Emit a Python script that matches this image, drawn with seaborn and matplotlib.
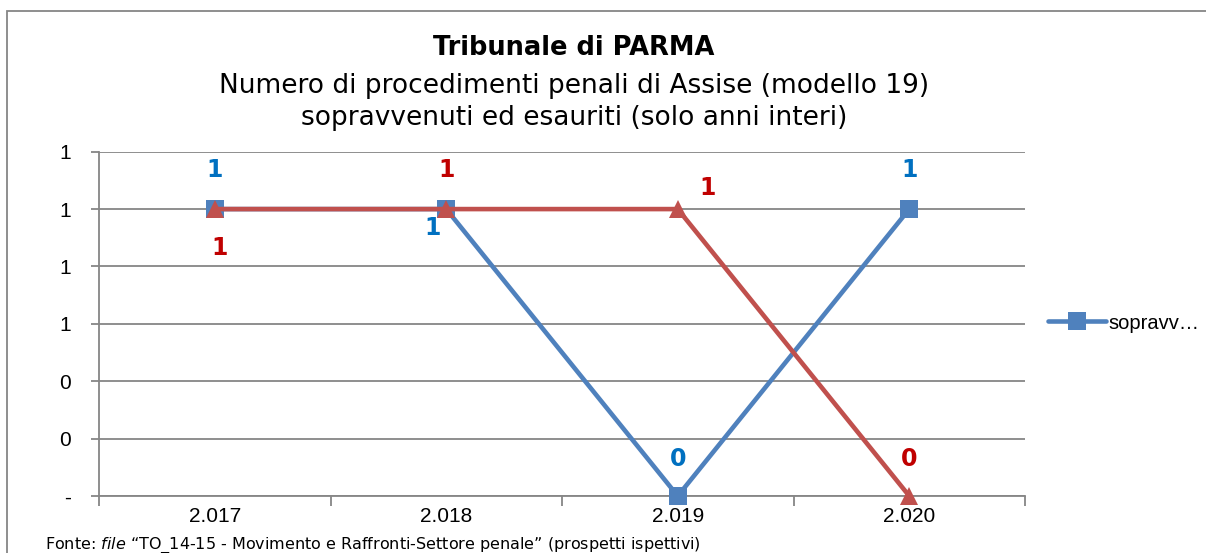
import numpy as np
import pandas as pd
import matplotlib
matplotlib.use('Agg')
import matplotlib.pyplot as plt
import seaborn as sns
from matplotlib.patches import Rectangle
from matplotlib.lines import Line2D

# Data
anni = ['2.017', '2.018', '2.019', '2.020']
sopravvenuti = [1, 1, 0, 1]
esauriti = [1, 1, 1, 0]
serie = ['sopravvenuti', 'esauriti']
y_ticks = [0, 0.2, 0.4, 0.6, 0.8, 1.0, 1.2]

# Label offsets in pixels (style only)
off_sopr = [(0, 39), (-14, -19), (0, 37), (0, 39)]
off_esau = [(5, -39), (0, 39), (30, 21), (0, 37)]

colori_linea = {'sopravvenuti': '#4F81BD', 'esauriti': '#C0504D'}
colori_etich = {'sopravvenuti': '#0070C0', 'esauriti': '#C00000'}

df = pd.DataFrame({
    'anno': anni * 2,
    'valore': sopravvenuti + esauriti,
    'serie': ['sopravvenuti'] * len(anni) + ['esauriti'] * len(anni),
})

sns.set_theme(style="white")
plt.rcParams['font.family'] = ['DejaVu Sans']
plt.rcParams['text.color'] = 'black'
plt.rcParams['xtick.color'] = 'black'
plt.rcParams['ytick.color'] = 'black'

fig = plt.figure(figsize=(12.06, 5.53), dpi=100)
ax = fig.add_axes([99 / 1206, 1 - 496 / 553, (1025 - 99) / 1206, (496 - 151.7) / 553])

sns.lineplot(data=df, x='anno', y='valore', hue='serie', style='serie',
             hue_order=serie, style_order=serie, palette=colori_linea,
             markers={'sopravvenuti': 's', 'esauriti': '^'}, dashes=False,
             markersize=13, markeredgewidth=0, linewidth=3.3, ax=ax,
             legend=False, sort=False)
for ln in ax.lines:
    ln.set_clip_on(False)
    ln.set_zorder(5)

ax.set_xlim(-0.5, 3.5)
ax.set_ylim(0, 1.2)
ax.set_yticks(y_ticks)
ax.set_yticklabels(['-' if v == 0 else f'{v:.0f}' for v in y_ticks],
                   family='Liberation Sans', fontsize=15)
ax.set_xticks(range(len(anni)))
ax.set_xticklabels(anni, family='Liberation Sans', fontsize=15)
ax.tick_params(axis='x', which='major', bottom=True, length=0, pad=8)
ax.tick_params(axis='y', left=True, length=6, width=1.3, color='#868686', pad=14)
ax.set_xticks([i - 0.5 for i in range(len(anni) + 1)], minor=True)
ax.tick_params(axis='x', which='minor', bottom=True, length=7, width=1.3,
               color='#868686', direction='out')
ax.set_xlabel('')
ax.set_ylabel('')

ax.grid(axis='y', color='#868686', linewidth=1.3)
ax.grid(axis='x', visible=False)
for s in ['top', 'right']:
    ax.spines[s].set_visible(False)
for s in ['left', 'bottom']:
    ax.spines[s].set_color('#868686')
    ax.spines[s].set_linewidth(1.3)

for nome, valori, offs in [('sopravvenuti', sopravvenuti, off_sopr),
                           ('esauriti', esauriti, off_esau)]:
    for i, v in enumerate(valori):
        ax.annotate(f'{v:.0f}', (i, v), xytext=offs[i], textcoords='offset pixels',
                    ha='center', va='center', fontsize=17, fontweight='bold',
                    color=colori_etich[nome], annotation_clip=False)

# Legend (only the first entry is visible in the original)
h = Line2D([], [], color=colori_linea['sopravvenuti'], marker='s', markersize=13,
           markeredgewidth=0, linewidth=3.3, solid_capstyle='round')
fig.legend([h], ['sopravv…'], loc='center left', bbox_to_anchor=(1040 / 1206, 1 - 323 / 553),
           frameon=False, handlelength=2.9, handletextpad=0.1,
           prop={'family': 'Liberation Sans', 'size': 14.5}, borderaxespad=0)

# Titles
cx = 574 / 1206
fig.text(cx, 1 - 48 / 553, 'Tribunale di PARMA', ha='center', va='center',
         fontsize=18.5, fontweight='bold')
fig.text(cx, 1 - 86 / 553, 'Numero di procedimenti penali di Assise (modello 19)',
         ha='center', va='center', fontsize=19)
fig.text(cx, 1 - 118 / 553, 'sopravvenuti ed esauriti (solo anni interi)',
         ha='center', va='center', fontsize=19)

fig.text(45 / 1206, 1 - 545 / 553,
         r'Fonte: $\it{file}$ “TO_14-15 - Movimento e Raffronti-Settore penale” (prospetti ispettivi)',
         ha='left', va='center', fontsize=11.5)

# Outer border
fig.patches.append(Rectangle((7 / 1206, -0.05), 1.1, 1 - 11 / 553 + 0.05,
                             transform=fig.transFigure, fill=False,
                             edgecolor='#868686', linewidth=1.3))

fig.savefig('out.png', dpi=100)
